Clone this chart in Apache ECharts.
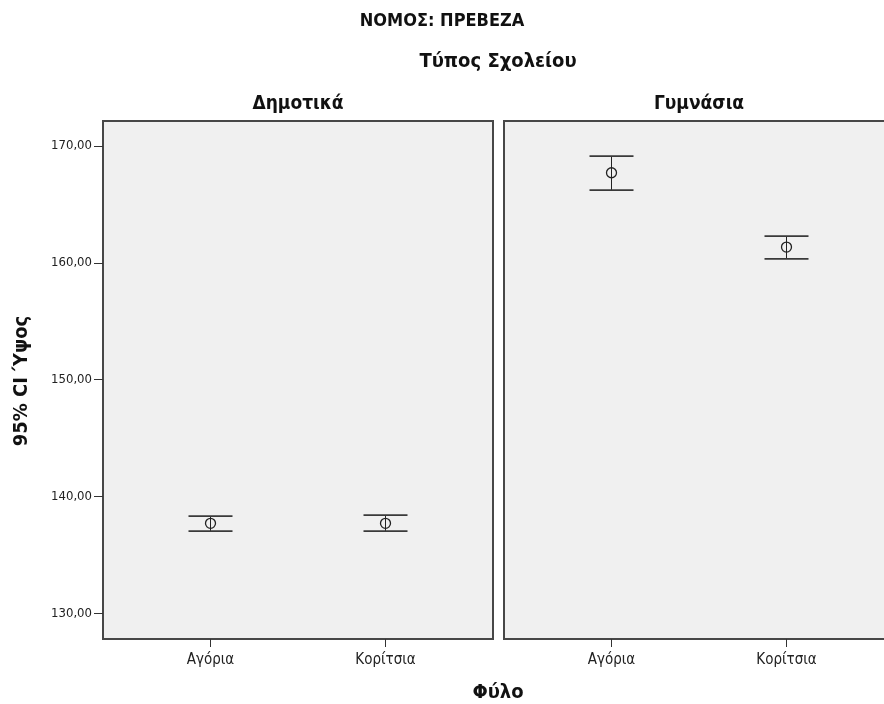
<!DOCTYPE html>
<html>
<head>
<meta charset="utf-8">
<script src="https://cdn.jsdelivr.net/npm/echarts@6/dist/echarts.min.js"></script>
<style>
html,body{margin:0;padding:0;background:#fff;}
#chart{width:884px;height:704px;}
</style>
</head>
<body>
<div id="chart"></div>
<script>
// ---- data ----
const categories = ['Αγόρια', 'Κορίτσια'];
const panelTitles = ['Δημοτικά', 'Γυμνάσια'];
const dimotikaMean = [137.70, 137.70];
const dimotikaLow  = [137.04, 137.04];
const dimotikaHigh = [138.32, 138.41];
const gymnasiaMean = [167.71, 161.35];
const gymnasiaLow  = [166.23, 160.33];
const gymnasiaHigh = [169.14, 162.29];
const yTicks = [130, 140, 150, 160, 170];
const mainTitle = 'ΝΟΜΟΣ: ΠΡΕΒΕΖΑ';
const panelGroupTitle = 'Τύπος Σχολείου';
const xAxisTitle = 'Φύλο';
const yAxisTitle = '95% CI Ύψος';

// ---- layout ----
const FONT = '"Liberation Sans Narrow", "DejaVu Sans Condensed", "Liberation Sans", Arial, sans-serif';
const Y_MIN = 127.8, Y_MAX = 172.14;
const TOP = 121, HEIGHT = 518;
const panelLeft = [103, 504];
const PANEL_W = 390;
const INSET = 20;

function build(means, lows, highs) {
  return categories.map((c, i) => [i, means[i], lows[i], highs[i]]);
}

function renderItem(params, api) {
  const x = api.value(0);
  const m = api.coord([x, api.value(1)]);
  const lo = api.coord([x, api.value(2)]);
  const hi = api.coord([x, api.value(3)]);
  const hw = 22;
  return {
    type: 'group',
    children: [
      { type: 'line', shape: { x1: hi[0], y1: hi[1], x2: lo[0], y2: lo[1] }, style: { stroke: '#222', lineWidth: 1 } },
      { type: 'line', shape: { x1: hi[0] - hw, y1: hi[1], x2: hi[0] + hw, y2: hi[1] }, style: { stroke: '#3a3a3a', lineWidth: 1.8 } },
      { type: 'line', shape: { x1: lo[0] - hw, y1: lo[1], x2: lo[0] + hw, y2: lo[1] }, style: { stroke: '#3a3a3a', lineWidth: 1.8 } },
      { type: 'circle', shape: { cx: m[0], cy: m[1], r: 5 }, style: { fill: 'none', stroke: '#222', lineWidth: 1.3 } }
    ]
  };
}

const grids = [];
const xAxes = [];
const yAxes = [];
// frame grids
panelLeft.forEach((l, k) => {
  grids.push({ left: l, top: TOP, width: PANEL_W, height: HEIGHT, show: true, outerBoundsMode: 'none',
    backgroundColor: '#f0f0f0', borderColor: '#474747', borderWidth: 2 });
  xAxes.push({ type: 'value', gridIndex: k, show: false });
  yAxes.push({ type: 'value', gridIndex: k, show: false });
});
// data grids
panelLeft.forEach((l, k) => {
  grids.push({ left: l + INSET, top: TOP, width: PANEL_W - 2 * INSET, height: HEIGHT, show: false, outerBoundsMode: 'none' });
  xAxes.push({
    type: 'category', gridIndex: k + 2, data: categories, boundaryGap: true,
    axisLine: { show: false },
    axisTick: { show: true, alignWithLabel: true, length: 8, lineStyle: { color: '#333' } },
    axisLabel: { color: '#222', fontSize: 15, fontFamily: FONT, margin: 14 }
  });
  yAxes.push({
    type: 'value', gridIndex: k + 2, min: Y_MIN, max: Y_MAX, show: k === 0,
    offset: INSET,
    axisLine: { show: false },
    splitLine: { show: false },
    axisTick: { show: true, length: 9, customValues: yTicks, lineStyle: { color: '#333' } },
    axisLabel: { customValues: yTicks, color: '#222', fontSize: 13, fontFamily: FONT, margin: 11,
      formatter: v => v.toFixed(2).replace('.', ',') }
  });
});

const option = {
  backgroundColor: '#fff',
  animation: false,
  grid: grids,
  xAxis: xAxes,
  yAxis: yAxes,
  series: [
    { type: 'custom', xAxisIndex: 2, yAxisIndex: 2, renderItem, data: build(dimotikaMean, dimotikaLow, dimotikaHigh) },
    { type: 'custom', xAxisIndex: 3, yAxisIndex: 3, renderItem, data: build(gymnasiaMean, gymnasiaLow, gymnasiaHigh) }
  ],
  graphic: [
    { type: 'text', x: 442, y: 21, style: { text: mainTitle, textAlign: 'center', textVerticalAlign: 'middle', font: 'bold 18px ' + FONT, fill: '#111' } },
    { type: 'text', x: 498, y: 62, style: { text: panelGroupTitle, textAlign: 'center', textVerticalAlign: 'middle', font: 'bold 20px ' + FONT, fill: '#111' } },
    { type: 'text', x: panelLeft[0] + PANEL_W / 2, y: 104, style: { text: panelTitles[0], textAlign: 'center', textVerticalAlign: 'middle', font: 'bold 19px ' + FONT, fill: '#111' } },
    { type: 'text', x: panelLeft[1] + PANEL_W / 2, y: 104, style: { text: panelTitles[1], textAlign: 'center', textVerticalAlign: 'middle', font: 'bold 19px ' + FONT, fill: '#111' } },
    { type: 'text', x: 498, y: 693, style: { text: xAxisTitle, textAlign: 'center', textVerticalAlign: 'middle', font: 'bold 20px ' + FONT, fill: '#111' } },
    { type: 'text', x: 22, y: 381, rotation: Math.PI / 2, style: { text: yAxisTitle, textAlign: 'center', textVerticalAlign: 'middle', font: 'bold 20px ' + FONT, fill: '#111' } }
  ]
};

const chart = echarts.init(document.getElementById('chart'), null, { renderer: 'canvas' });
chart.setOption(option);
</script>
</body>
</html>
